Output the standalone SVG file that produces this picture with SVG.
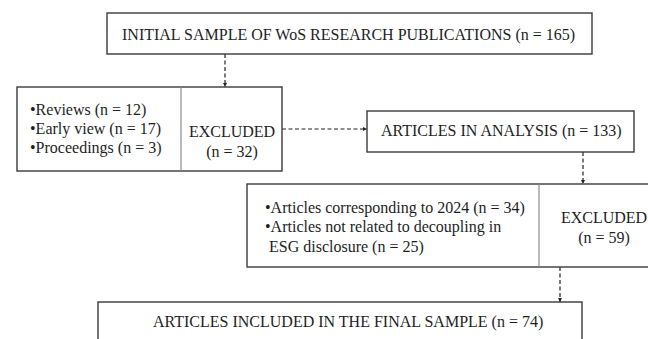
<svg xmlns="http://www.w3.org/2000/svg" width="648" height="339" viewBox="0 0 648 339">
<defs>
<style>
.box{fill:#fff;stroke:#3a3a3a;stroke-width:1.4}
.div{stroke:#8a8a8a;stroke-width:1.2}
.t{font-family:"Liberation Serif","Times New Roman",serif;font-size:16px;fill:#1e1e1e}
.c{text-anchor:middle}
.con{stroke:#222;stroke-width:1.2;stroke-dasharray:4 2.5;fill:none;marker-end:url(#ah)}
</style>
<marker id="ah" viewBox="0 0 8 8" refX="8" refY="4" markerWidth="4.5" markerHeight="4.5" markerUnits="userSpaceOnUse" orient="auto">
<path d="M0,0 L8,4 L0,8 z" fill="#222"/>
</marker>
</defs>
<rect width="648" height="339" fill="#fff"/>
<g id="connectors">
<line class="con" x1="225" y1="54" x2="225" y2="87"/>
<line class="con" x1="282" y1="129" x2="367" y2="129"/>
<line class="con" x1="583" y1="152" x2="583" y2="184"/>
<line class="con" x1="560" y1="267" x2="560" y2="302"/>
</g>
<g id="initial">
<rect class="box" x="107" y="13" width="485" height="41"/>
<text class="t" x="122" y="40">INITIAL SAMPLE OF WoS RESEARCH PUBLICATIONS (n = 165)</text>
</g>
<g id="excluded1">
<rect class="box" x="17" y="87" width="265" height="84"/>
<line class="div" x1="181" y1="87" x2="181" y2="171"/>
<text class="t" x="30" y="115">•Reviews (n = 12)</text>
<text class="t" x="30" y="134">•Early view (n = 17)</text>
<text class="t" x="30" y="153">•Proceedings (n = 3)</text>
<text class="t c" x="232" y="137">EXCLUDED</text>
<text class="t c" x="232" y="157">(n = 32)</text>
</g>
<g id="analysis">
<rect class="box" x="367" y="111" width="267" height="41"/>
<text class="t" x="381" y="136">ARTICLES IN ANALYSIS (n = 133)</text>
</g>
<g id="excluded2">
<rect class="box" x="247" y="184" width="415" height="83"/>
<line class="div" x1="539" y1="184" x2="539" y2="267"/>
<text class="t" x="265" y="213">•Articles corresponding to 2024 (n = 34)</text>
<text class="t" x="265" y="232">•Articles not related to decoupling in</text>
<text class="t" x="269" y="252">ESG disclosure (n = 25)</text>
<text class="t c" x="604" y="223">EXCLUDED</text>
<text class="t c" x="604" y="243">(n = 59)</text>
</g>
<g id="final">
<rect class="box" x="98" y="302" width="484" height="50"/>
<text class="t" x="153" y="327">ARTICLES INCLUDED IN THE FINAL SAMPLE (n = 74)</text>
</g>
</svg>
